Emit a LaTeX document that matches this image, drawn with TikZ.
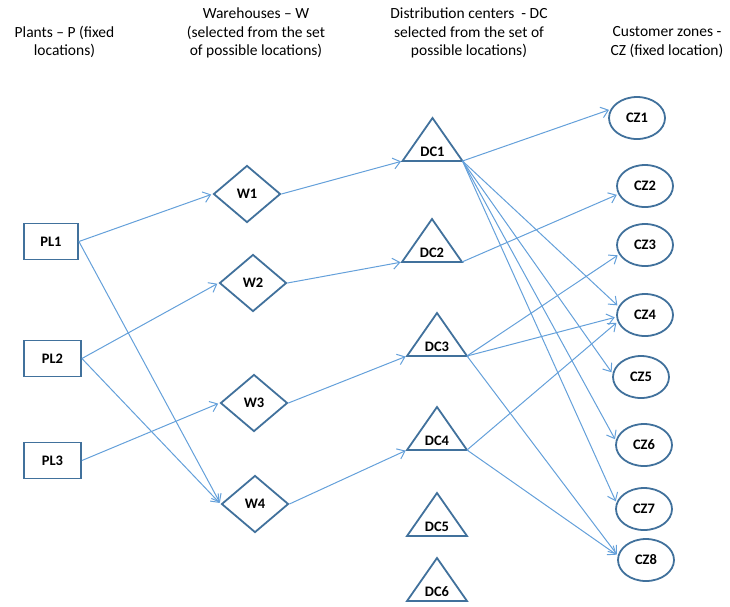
\documentclass[tikz,border=0pt]{standalone}
\usepackage{fontspec}
\setmainfont{Carlito}
\usetikzlibrary{shapes.geometric,arrows.meta}
\definecolor{shapeblue}{RGB}{65,113,156}
\definecolor{linkblue}{RGB}{100,160,218}
\tikzset{
  hdr/.style={align=center,inner sep=0pt,font=\fontsize{15.5}{18.5}\selectfont,text=black},
  lbl/.style={inner sep=0pt,font=\fontsize{14.5}{16}\selectfont\bfseries,text=black},
  plbox/.style={draw=shapeblue,line width=1.8pt,rectangle,minimum height=36pt,inner sep=0pt,font=\fontsize{14.5}{16}\selectfont\bfseries},
  wshape/.style={draw=shapeblue,line width=1.8pt,diamond,minimum width=67pt,minimum height=57pt,inner sep=0pt,font=\fontsize{14.5}{16}\selectfont\bfseries},
  czshape/.style={draw=shapeblue,line width=1.8pt,ellipse,minimum width=56pt,minimum height=42pt,inner sep=0pt,font=\fontsize{14.5}{16}\selectfont\bfseries},
  dcshape/.style={draw=shapeblue,line width=1.8pt},
  conn/.style={draw=linkblue,line width=1pt,-{Straight Barb[length=7pt,width=11pt]},shorten >=1.5pt}
}
\newcommand{\mkdc}[3]{%
  \coordinate (#1) at (#2,#3);
  \coordinate (#1L) at (#2-30,#3+43);
  \coordinate (#1R) at (#2+30,#3+43);
  \draw[dcshape] (#1) -- (#1L) -- (#1R) -- cycle;
  \node[lbl] (#1T) at (#2,#3+34) {#1};
}
\begin{document}
\begin{tikzpicture}[x=1pt,y=-1pt]
\useasboundingbox (0,0) rectangle (730,606);
% headers
\node[hdr] (hP) at (64.5,42) {Plants -- P (fixed\\locations)};
\node[hdr] (hW) at (256,33) {Warehouses -- W\\(selected from the set\\of possible locations)};
\node[hdr] (hDC) at (469,33) {Distribution centers\ \ - DC\\selected from the set of\\possible locations)};
\node[hdr] (hCZ) at (667,42) {Customer zones -\\CZ (fixed location)};
% plants
\node[plbox,minimum width=54pt] (PL1) at (51,241.5) {PL1};
\node[plbox,minimum width=57pt] (PL2) at (52.5,358.5) {PL2};
\node[plbox,minimum width=57pt] (PL3) at (52.5,460.5) {PL3};
% warehouses
\node[wshape] (W1) at (247,194) {W1};
\node[wshape] (W2) at (253,283) {W2};
\node[wshape] (W3) at (254,403) {W3};
\node[wshape] (W4) at (255,504) {W4};
% distribution centers
\mkdc{DC1}{432.5}{118}
\mkdc{DC2}{432}{219}
\mkdc{DC3}{437}{313}
\mkdc{DC4}{437}{407}
\mkdc{DC5}{437}{493}
\mkdc{DC6}{437}{558}
% customer zones
\node[czshape] (CZ1) at (637,118) {CZ1};
\node[czshape] (CZ2) at (645,186) {CZ2};
\node[czshape] (CZ3) at (645,245) {CZ3};
\node[czshape] (CZ4) at (645,315) {CZ4};
\node[czshape] (CZ5) at (641,377) {CZ5};
\node[czshape] (CZ6) at (644,445) {CZ6};
\node[czshape] (CZ7) at (644,509) {CZ7};
\node[czshape] (CZ8) at (646,560) {CZ8};
% connectors
\draw[conn] (PL1.east) -- (W1.west);
\draw[conn] (PL1.east) -- (W4.west);
\draw[conn] (PL2.east) -- (W2.west);
\draw[conn] (PL2.east) -- (W4.west);
\draw[conn] (PL3.east) -- (W3.west);
\draw[conn] (W1.east) -- (DC1L);
\draw[conn] (W2.east) -- (DC2L);
\draw[conn] (W3.east) -- (DC3L);
\draw[conn] (W4.east) -- (DC4L);
\draw[conn] (DC1R) -- (CZ1.162);
\draw[conn] (DC1R) -- (CZ4.162);
\draw[conn] (DC1R) -- (CZ5.173);
\draw[conn] (DC1R) -- (CZ6.171);
\draw[conn] (DC1R) -- (CZ7.167);
\draw[conn] (DC2R) -- (CZ2.197);
\draw[conn] (DC3R) -- (CZ3.200);
\draw[conn] (DC3R) -- (CZ4.184);
\draw[conn] (DC3R) -- (CZ8.171);
\draw[conn] (DC4R) -- (CZ4.194);
\draw[conn] (DC4R) -- (CZ8.171);
\end{tikzpicture}
\end{document}
